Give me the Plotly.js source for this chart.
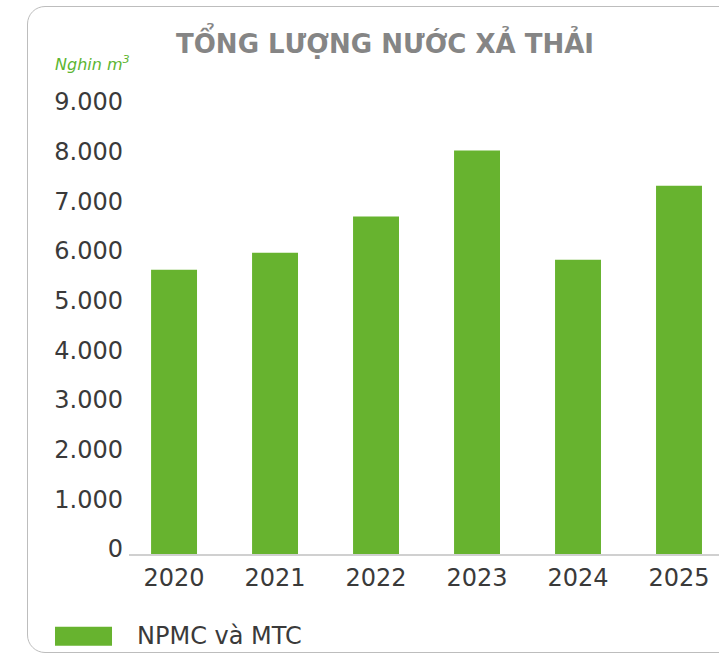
<!DOCTYPE html>
<html>
<head>
<meta charset="utf-8">
<script src="https://cdn.plot.ly/plotly-3.0.1.min.js"></script>
<style>
  html, body { margin: 0; padding: 0; width: 719px; height: 655px; overflow: hidden; background: #ffffff; }
  #frame { position: absolute; left: 27px; top: 6px; width: 760px; height: 647px;
           border: 1.5px solid #bdbdbd; border-radius: 18px; box-sizing: border-box; }
  #chart { position: absolute; left: 0; top: 0; width: 719px; height: 655px; }
</style>
</head>
<body>
<div id="frame"></div>
<div id="chart"></div>
<script>
const years = ['2020', '2021', '2022', '2023', '2024', '2025'];
const npmcMtc = [5720, 6060, 6790, 8120, 5920, 7410];
const seriesName = 'NPMC và MTC';
const chartTitle = 'TỔNG LƯỢNG NƯỚC XẢ THẢI';
const unitLabel = 'Nghin m<sup>3</sup>';
const yTicks = [0, 1000, 2000, 3000, 4000, 5000, 6000, 7000, 8000, 9000];

const green = '#67b32f';
const font = 'DejaVu Sans, Arial, sans-serif';

const trace = {
  type: 'bar',
  x: years,
  y: npmcMtc,
  name: seriesName,
  marker: { color: green },
  hoverinfo: 'x+y'
};

const layout = {
  width: 719, height: 655,
  margin: { l: 129, r: 0, t: 90, b: 101 },
  paper_bgcolor: 'rgba(0,0,0,0)',
  plot_bgcolor: 'rgba(0,0,0,0)',
  separators: ',.',
  showlegend: false,
  bargap: 0.545,
  font: { family: font, color: '#3a3a3a' },
  title: {
    text: '<b>' + chartTitle + '</b>',
    x: 0.5355, xref: 'container', xanchor: 'center',
    y: 0.933, yref: 'container', yanchor: 'middle',
    font: { family: font, size: 26, color: '#858585' }
  },
  xaxis: {
    type: 'category',
    range: [-0.446, 5.396],
    showline: true, linecolor: '#d0d0d0', linewidth: 1.5,
    showgrid: false, zeroline: false, ticks: '',
    tickfont: { size: 24, color: '#3a3a3a' },
    ticklabelstandoff: 2
  },
  yaxis: {
    range: [0, 9336],
    tickvals: yTicks,
    tickformat: ',d',
    showline: false, showgrid: false, zeroline: false, ticks: '',
    tickfont: { size: 24, color: '#3a3a3a' },
    ticklabelshift: -5,
    ticklabelstandoff: 5
  },
  annotations: [
    {
      text: unitLabel, xref: 'paper', yref: 'paper',
      x: -0.1288, y: 1.058, xanchor: 'left', yanchor: 'middle', showarrow: false,
      font: { family: font, size: 16, color: '#5cb531', style: 'italic' }
    },
    {
      text: seriesName, xref: 'paper', yref: 'paper',
      x: 0.0102, y: -0.1767, xanchor: 'left', yanchor: 'middle', showarrow: false,
      font: { family: font, size: 24, color: '#3a3a3a' }
    }
  ],
  shapes: [
    {
      type: 'rect', xref: 'paper', yref: 'paper',
      x0: -0.1254, x1: -0.0288, y0: -0.198, y1: -0.157,
      fillcolor: green, line: { width: 0 }
    }
  ]
};

Plotly.newPlot('chart', [trace], layout, { displayModeBar: false, staticPlot: true });
</script>
</body>
</html>
